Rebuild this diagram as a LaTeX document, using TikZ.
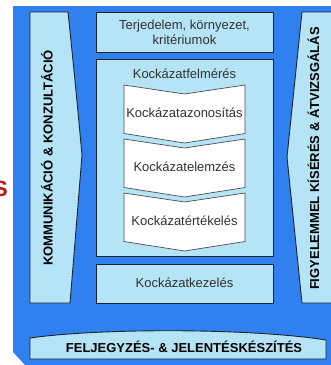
\documentclass[tikz,border=0pt]{standalone}
\usepackage{fontspec}
\setmainfont{Liberation Sans}
\definecolor{bgblue}{RGB}{48,128,240}
\definecolor{panel}{RGB}{180,228,245}
\definecolor{edge}{RGB}{25,35,45}
\definecolor{txt}{RGB}{50,50,50}
\definecolor{redtxt}{RGB}{190,20,20}
\begin{document}
\begin{tikzpicture}[x=1pt,y=-1pt,
  panelshape/.style={fill=panel,draw=edge,line width=0.9pt,line join=miter},
  chevshape/.style={fill=white,draw=black!70,line width=0.7pt},
  plain/.style={font=\fontsize{13}{15}\selectfont,text=txt,inner sep=0pt,align=center},
  boldlab/.style={font=\fontsize{13}{15}\selectfont\bfseries,text=black,inner sep=0pt}]
\useasboundingbox (0,0) rectangle (331,365);
% background
\fill[bgblue] (13,6) -- (331,6) -- (331,365) -- (25,365) -- (13,352) -- cycle;
% red partial letter
\node[font=\fontsize{22}{24}\selectfont\bfseries,text=redtxt,inner sep=0pt] (redS) at (0.5,189) {S};
% left panel
\draw[panelshape] (30,12) -- (68,12) .. controls (75,80) .. (82,155) .. controls (76,230) .. (70,303) -- (30,303) -- cycle;
\node[boldlab,rotate=90] (komm) at (47,158) {KOMMUNIKÁCIÓ \& KONZULTÁCIÓ};
% right panel
\draw[panelshape] (336,12) -- (302,12) .. controls (295,85) .. (287,157) .. controls (295,230) .. (302,303) -- (336,303);
\node[boldlab,rotate=90] (figy) at (313.5,158.5) {FIGYELEMMEL KÍSÉRÉS \& ÁTVIZSGÁLÁS};
% top box
\draw[panelshape] (96,12) rectangle (273,52);
\node[plain] (terj) at (184.5,32.5) {Terjedelem, környezet,\\kritériumok};
% middle box
\draw[panelshape] (96,59) rectangle (273,256.5);
\node[plain] (felm) at (184.5,73.5) {Kockázatfelmérés};
% chevrons
\foreach \t/\lab/\nm in {85/Kockázatazonosítás/c1,139/Kockázatelemzés/c2,193/Kockázatértékelés/c3}{
  \draw[chevshape] (124,\t) -- (184.5,\t+9) -- (245,\t) -- (245,\t+48.5) -- (184.5,\t+58) -- (124,\t+48.5) -- cycle;
  \node[plain] (\nm) at (184.5,\t+28) {\lab};
}
% bottom box
\draw[panelshape] (96,264) rectangle (273,303);
\node[plain] (kez) at (184.5,283) {Kockázatkezelés};
% footer
\draw[panelshape] (30,338) .. controls (100,328) and (250,328) .. (326,340) -- (326,359) -- (30,359) -- cycle;
\node[boldlab] (felj) at (184,347) {FELJEGYZÉS- \& JELENTÉSKÉSZÍTÉS};
\end{tikzpicture}
\end{document}
